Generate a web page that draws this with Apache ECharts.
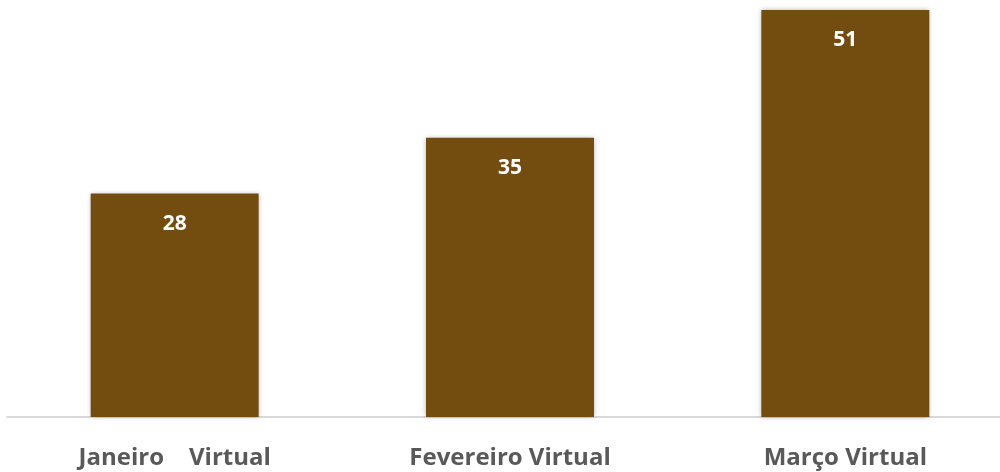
<!DOCTYPE html>
<html><head><meta charset="utf-8">
<script src="https://cdn.jsdelivr.net/npm/echarts@6/dist/echarts.min.js"></script>
<style>html,body{margin:0;padding:0;background:#fff}#c{width:1000px;height:472px}</style>
</head><body><div id="c"></div>
<script>
const categories = ["Janeiro    Virtual", "Fevereiro Virtual", "Março Virtual"];
const values = [28, 35, 51];
const chart = echarts.init(document.getElementById('c'), null, {renderer:'canvas'});
chart.setOption({
  animation:false,
  grid:{left:7, width:1006, top:10, bottom:55, containLabel:false, outerBoundsMode:'none'},
  xAxis:{type:'category', data:categories,
    axisLine:{lineStyle:{color:'#d9d9d9', width:2}},
    axisTick:{show:false},
    axisLabel:{color:'#595959', fontWeight:'bold', fontSize:24, fontFamily:'Open Sans', margin:29}},
  yAxis:{type:'value', min:0, max:51, show:false, splitLine:{show:false}},
  series:[{type:'bar', data:values, barWidth:168,
    itemStyle:{color:'#734C10', shadowColor:'rgba(0,0,0,0.3)', shadowBlur:5},
    label:{show:true, position:'insideTop', distance:20, color:'#fff', fontWeight:'bold', fontSize:21, fontFamily:'Open Sans'}}]
});
</script></body></html>
